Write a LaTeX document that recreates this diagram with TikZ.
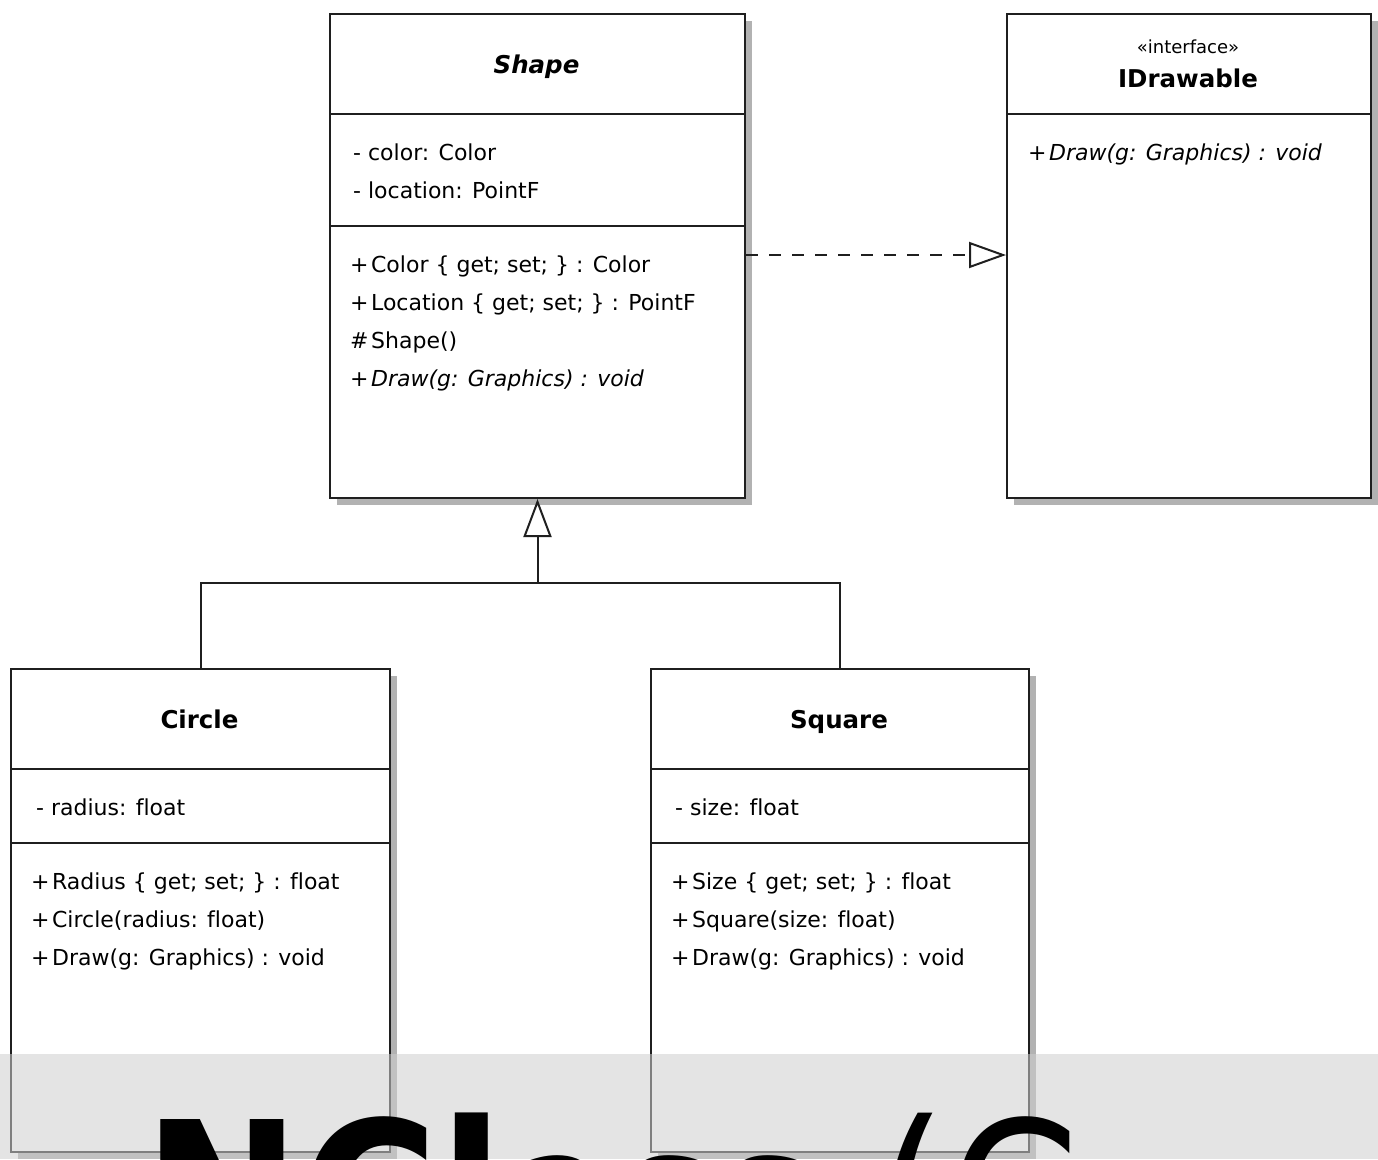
\documentclass[tikz,border=0pt]{standalone}
\usepackage{fontspec}
\setmainfont[Ligatures=NoCommon]{DejaVu Sans}
\usetikzlibrary{arrows.meta,shadows}
\newcommand{\vplus}{+\hspace{2.5pt}}
\tikzset{
  classbox/.style={draw=black!88, line width=2pt, fill=white, inner sep=0pt, anchor=north west,
    drop shadow={shadow xshift=7pt, shadow yshift=-7pt, fill=black!30, opacity=1}},
  sepline/.style={draw=black!88, line width=2pt},
  member/.style={anchor=base west, inner sep=0pt, font=\fontsize{22pt}{26pt}\selectfont},
  memberit/.style={member, font=\fontsize{22pt}{26pt}\selectfont\itshape},
  title/.style={anchor=base, inner sep=0pt, font=\fontsize{24.5pt}{28pt}\selectfont\bfseries},
  titleit/.style={title, font=\fontsize{24.5pt}{28pt}\selectfont\bfseries\itshape},
  stereo/.style={anchor=base, inner sep=0pt, font=\fontsize{18pt}{20pt}\selectfont},
  conn/.style={line width=2pt, draw=black!88},
  gentip/.style={-{Triangle[length=38pt, width=28pt, fill=white, line join=miter]}},
  realtip/.style={-{Triangle[length=37pt, width=26pt, fill=white, line join=miter]}},
}
\begin{document}
\begin{tikzpicture}[x=1pt,y=-1pt]
\useasboundingbox (0,0) rectangle (1378,1159);
\clip (0,0) rectangle (1378,1159);
\fill[white] (0,0) rectangle (1378,1159);

% class boxes
\node[classbox, minimum width=415pt, minimum height=484pt] (shape) at (329,13) {};
\node[classbox, minimum width=364pt, minimum height=484pt] (idraw) at (1006,13) {};
\node[classbox, minimum width=379pt, minimum height=483pt] (circle) at (10,668) {};
\node[classbox, minimum width=378pt, minimum height=483pt] (square) at (650,668) {};

% compartments
\draw[sepline] (shape.west |- 0,114) -- (shape.east |- 0,114);
\draw[sepline] (shape.west |- 0,226) -- (shape.east |- 0,226);
\draw[sepline] (idraw.west |- 0,114) -- (idraw.east |- 0,114);
\draw[sepline] (circle.west |- 0,769) -- (circle.east |- 0,769);
\draw[sepline] (circle.west |- 0,843) -- (circle.east |- 0,843);
\draw[sepline] (square.west |- 0,769) -- (square.east |- 0,769);
\draw[sepline] (square.west |- 0,843) -- (square.east |- 0,843);

% Shape
\node[titleit] (shapeT) at (536.5,73) {Shape};
\node[member] (shapeF1) at (353,160) {- color: Color};
\node[member] (shapeF2) at (353,198) {- location: PointF};
\node[member] (shapeM1) at (350,272) {\vplus Color \{ get; set; \} : Color};
\node[member] (shapeM2) at (350,310) {\vplus Location \{ get; set; \} : PointF};
\node[member] (shapeM3) at (350,348) {\#\hspace{2.5pt}Shape()};
\node[memberit] (shapeM4) at (350,386) {\vplus Draw(g: Graphics) : void};

% IDrawable
\node[stereo] (idrawS) at (1188,53) {«interface»};
\node[title] (idrawT) at (1188,87) {IDrawable};
\node[memberit] (idrawM1) at (1028,160) {\vplus Draw(g: Graphics) : void};

% Circle
\node[title] (circleT) at (199.5,728) {Circle};
\node[member] (circleF1) at (36,815) {- radius: float};
\node[member] (circleM1) at (31,889) {\vplus Radius \{ get; set; \} : float};
\node[member] (circleM2) at (31,927) {\vplus Circle(radius: float)};
\node[member] (circleM3) at (31,965) {\vplus Draw(g: Graphics) : void};

% Square
\node[title] (squareT) at (839,728) {Square};
\node[member] (squareF1) at (675,815) {- size: float};
\node[member] (squareM1) at (671,889) {\vplus Size \{ get; set; \} : float};
\node[member] (squareM2) at (671,927) {\vplus Square(size: float)};
\node[member] (squareM3) at (671,965) {\vplus Draw(g: Graphics) : void};

% generalization
\coordinate (join) at (shape.south |- 0,583);
\draw[conn] (circle.north) |- (join);
\draw[conn] (square.north) |- (join);
\draw[conn, gentip] (join) -- (shape.south);

% realization
\coordinate (realS) at (shape.east |- 0,255);
\coordinate (realE) at (idraw.west |- 0,255);
\draw[conn, realtip, dash pattern=on 12pt off 11pt] (realS) -- (realE);

% watermark band
\fill[black!19, opacity=0.55] (0,1054) rectangle (1378,1159);
\node[anchor=base west, inner sep=0pt, xscale=0.88, font=\fontsize{214pt}{240pt}\selectfont] (wm) at (143,1275) {\textbf{NCl}ass (C};
\end{tikzpicture}
\end{document}
